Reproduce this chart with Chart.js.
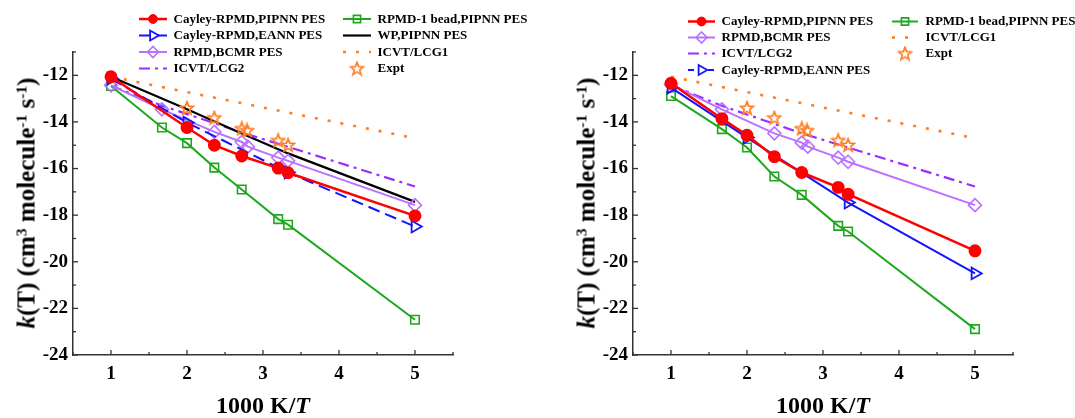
<!DOCTYPE html>
<html><head><meta charset="utf-8">
<script src="https://cdn.jsdelivr.net/npm/chart.js@4.4.1/dist/chart.umd.min.js"></script>
<style>
body{margin:0;background:#fff;}
#wrap{position:relative;width:1075px;height:418px;overflow:hidden;background:#fff;}
canvas{position:absolute;top:0;}
.ytitle{position:absolute;font:bold 25px 'Liberation Serif','Times New Roman',serif;white-space:nowrap;transform:translate(-50%,-50%) rotate(-90deg);line-height:25px;color:#000}
.xtitle{position:absolute;font:bold 24px 'Liberation Serif','Times New Roman',serif;white-space:nowrap;transform:translateX(-50%);line-height:24px;top:393px;color:#000}
sup{font-size:0.62em;position:relative;top:-0.5em;vertical-align:baseline;line-height:0}
</style></head>
<body><div id="wrap">
<canvas id="c1" width="537" height="418" style="left:0"></canvas>
<canvas id="c2" width="515" height="418" style="left:560px"></canvas>
<div class="ytitle" style="left:26px;top:203px"><i>k</i>(T) (cm<sup>3</sup> molecule<sup>-1</sup> s<sup>-1</sup>)</div>
<div class="ytitle" style="left:586px;top:203px"><i>k</i>(T) (cm<sup>3</sup> molecule<sup>-1</sup> s<sup>-1</sup>)</div>
<div class="xtitle" style="left:263px">1000 K/<i>T</i></div>
<div class="xtitle" style="left:823px">1000 K/<i>T</i></div>
</div>
<script>
// ---------- data ----------
const X_TICKS = [1, 2, 3, 4, 5];
const Y_TICKS = [-24, -22, -20, -18, -16, -14, -12];

// left panel
const redL_x = [1, 2, 2.36, 2.72, 3.2, 3.33, 5];
const redL_y = [-12.06, -14.24, -15.0, -15.46, -15.98, -16.18, -18.03];
const blueL_x = [1, 2, 3.33, 5];
const blueL_y = [-12.14, -14.03, -16.17, -18.49];
const purpleL_x = [1, 1.67, 2.36, 2.72, 2.8, 3.2, 3.33, 5];
const purpleL_y = [-12.43, -13.46, -14.43, -14.86, -15.06, -15.53, -15.67, -17.57];
const greenL_x = [1, 1.67, 2, 2.36, 2.72, 3.2, 3.33, 5];
const greenL_y = [-12.46, -14.24, -14.91, -15.96, -16.9, -18.17, -18.41, -22.49];
const blackL_x = [1, 2, 2.72, 3.33, 5];
const blackL_y = [-12.06, -13.46, -14.5, -15.35, -17.43];
const lcg1L_x = [1, 5];
const lcg1L_y = [-12.06, -14.7];
const lcg2L_x = [1, 1.67, 2.72, 5];
const lcg2L_y = [-12.45, -13.3, -14.45, -16.77];

// right panel
const redR_x = [1, 1.67, 2, 2.36, 2.72, 3.2, 3.33, 5];
const redR_y = [-12.34, -13.86, -14.57, -15.49, -16.17, -16.81, -17.1, -19.53];
const blueR_x = [1, 2, 3.33, 5];
const blueR_y = [-12.53, -14.67, -17.46, -20.5];
const purpleR_x = [1, 1.67, 2.36, 2.72, 2.8, 3.2, 3.33, 5];
const purpleR_y = [-12.39, -13.46, -14.49, -14.89, -15.06, -15.53, -15.71, -17.57];
const greenR_x = [1, 1.67, 2, 2.36, 2.72, 3.2, 3.33, 5];
const greenR_y = [-12.89, -14.31, -15.1, -16.34, -17.13, -18.46, -18.7, -22.89];
const lcg1R_x = [1, 5];
const lcg1R_y = [-12.06, -14.7];
const lcg2R_x = [1, 1.67, 2.72, 5];
const lcg2R_y = [-12.42, -13.31, -14.49, -16.77];

// experiment (both panels)
const expt_x = [2, 2.36, 2.72, 2.79, 3.2, 3.33];
const expt_y = [-13.4, -13.82, -14.28, -14.36, -14.79, -14.99];

// ---------- styling ----------
const F = "'Liberation Serif','Times New Roman',serif";
const RED = '#ff0000', BLUE = '#1414ff', PURPLE = '#b872ff', VIOLET = '#9a2eff',
      GREEN = '#1fa81f', BLACK = '#000000', ORANGE = '#ff7f27';

function starImg() {
  const c = document.createElement('canvas');
  c.width = c.height = 16;
  const g = c.getContext('2d');
  g.beginPath();
  for (let i = 0; i < 10; i++) {
    const r = i % 2 ? 2.9 : 6.8;
    const a = -Math.PI / 2 + i * Math.PI / 5;
    g.lineTo(8 + r * Math.cos(a), 8.5 + r * Math.sin(a));
  }
  g.closePath();
  g.strokeStyle = ORANGE; g.lineWidth = 1.7; g.stroke();
  return c;
}
const STAR = starImg();

function pts(xs, ys) { return xs.map((x, i) => ({ x: x, y: ys[i] })); }

const S = {
  red: { borderColor: RED, borderWidth: 2.5, pointStyle: 'circle', pointRadius: 5.2, pointBackgroundColor: RED, pointBorderColor: RED, order: 1 },
  blue: { borderColor: BLUE, borderWidth: 2, borderDash: [12, 6], pointStyle: 'triangle', pointRotation: 90, pointRadius: 6.8, pointBackgroundColor: 'rgba(0,0,0,0)', pointBorderColor: BLUE, pointBorderWidth: 1.8, order: 2 },
  blueSolid: { borderColor: BLUE, borderWidth: 2, pointStyle: 'triangle', pointRotation: 90, pointRadius: 6.8, pointBackgroundColor: 'rgba(0,0,0,0)', pointBorderColor: BLUE, pointBorderWidth: 1.8, order: 2 },
  purple: { borderColor: PURPLE, borderWidth: 2, pointStyle: 'rectRot', pointRadius: 6.5, pointBackgroundColor: 'rgba(0,0,0,0)', pointBorderColor: PURPLE, pointBorderWidth: 1.6, order: 3 },
  green: { borderColor: GREEN, borderWidth: 2, pointStyle: 'rect', pointRadius: 6, pointBackgroundColor: 'rgba(0,0,0,0)', pointBorderColor: GREEN, pointBorderWidth: 1.6, order: 4 },
  black: { borderColor: BLACK, borderWidth: 2.2, pointRadius: 0, order: 5 },
  lcg2: { borderColor: VIOLET, borderWidth: 2.2, borderDash: [11, 5, 3, 5], pointRadius: 0, order: 6 },
  lcg1: { borderColor: ORANGE, borderWidth: 2.6, borderDash: [3, 10], pointRadius: 0, order: 7 },
  expt: { showLine: false, pointStyle: STAR, pointRadius: 7, borderColor: ORANGE, order: 0 }
};

function ds(label, xs, ys, style) {
  return Object.assign({ label: label, data: pts(xs, ys), fill: false, tension: 0, pointHoverRadius: 0 }, style);
}

// inward axis ticks
const inTicks = {
  id: 'inTicks',
  afterDraw(chart) {
    const { ctx, scales: { x, y }, chartArea: a } = chart;
    ctx.save();
    ctx.strokeStyle = '#333'; ctx.lineWidth = 1.3;
    for (let v = x.min; v <= x.max + 1e-9; v += 0.5) {
      const px = x.getPixelForValue(v);
      const major = Math.abs(v - Math.round(v)) < 1e-9;
      ctx.beginPath(); ctx.moveTo(px, a.bottom); ctx.lineTo(px, a.bottom - (major ? 5 : 3)); ctx.stroke();
    }
    for (let v = y.min; v <= y.max + 1e-9; v += 1) {
      const py = y.getPixelForValue(v);
      const major = Math.round(v) % 2 === 0;
      ctx.beginPath(); ctx.moveTo(a.left, py); ctx.lineTo(a.left + (major ? 5 : 3), py); ctx.stroke();
    }
    ctx.restore();
  }
};

// custom two-column legend
const legendPlug = {
  id: 'legendPlug',
  afterDraw(chart, args, opts) {
    const ctx = chart.ctx;
    const dsets = chart.data.datasets;
    ctx.save();
    opts.items.forEach(it => {
      const d = dsets.find(s => s.label === it.label);
      const col = opts.cols[it.col];
      const y = opts.rows[it.row];
      if (d.showLine !== false) {
        ctx.save();
        ctx.strokeStyle = d.borderColor; ctx.lineWidth = d.borderWidth;
        ctx.setLineDash(it.dash || d.borderDash || []);
        ctx.beginPath(); ctx.moveTo(col.x1, y); ctx.lineTo(col.x2, y); ctx.stroke();
        ctx.restore();
      }
      if (d.pointRadius > 0) {
        ctx.save();
        ctx.setLineDash([]);
        ctx.fillStyle = d.pointBackgroundColor || 'rgba(0,0,0,0)';
        ctx.strokeStyle = d.pointBorderColor || d.borderColor;
        ctx.lineWidth = d.pointBorderWidth || 1;
        if (typeof d.pointStyle !== 'string') {
          ctx.drawImage(d.pointStyle, (col.x1 + col.x2) / 2 - d.pointStyle.width / 2, y - d.pointStyle.height / 2);
        } else {
          Chart.helpers.drawPoint(ctx, { pointStyle: d.pointStyle, rotation: d.pointRotation || 0, radius: d.pointRadius * 0.85, borderWidth: d.pointBorderWidth || 1 }, (col.x1 + col.x2) / 2, y);
        }
        ctx.restore();
      }
      ctx.fillStyle = '#000';
      ctx.font = 'bold 13px ' + F;
      ctx.textBaseline = 'middle'; ctx.textAlign = 'left';
      ctx.fillText(it.label, col.tx, y + 0.5);
    });
    ctx.restore();
  }
};

function makeChart(id, datasets, padRight, legendOpts) {
  return new Chart(document.getElementById(id), {
    type: 'line',
    data: { datasets: datasets },
    plugins: [inTicks, legendPlug],
    options: {
      responsive: false, animation: false, devicePixelRatio: 1,
      layout: { padding: { left: 0, right: padRight, top: 52, bottom: 0 } },
      plugins: { legend: { display: false }, tooltip: { enabled: false }, legendPlug: legendOpts },
      scales: {
        x: {
          type: 'linear', min: 0.5, max: 5.5,
          afterBuildTicks: s => { s.ticks = X_TICKS.map(v => ({ value: v })); },
          afterFit: s => { s.height = 63; },
          grid: { display: false, drawTicks: false },
          border: { display: true, color: '#333', width: 1.5 },
          ticks: { padding: 8, color: '#000', font: { family: F, size: 19, weight: 'bold' } }
        },
        y: {
          type: 'linear', min: -24, max: -11,
          afterBuildTicks: s => { s.ticks = Y_TICKS.map(v => ({ value: v })); },
          afterFit: s => { s.width = 73; },
          grid: { display: false, drawTicks: false },
          border: { display: true, color: '#333', width: 1.5 },
          ticks: { padding: 5, color: '#000', font: { family: F, size: 19, weight: 'bold' } }
        }
      }
    }
  });
}

const L1 = 'Cayley-RPMD,PIPNN PES', L2 = 'Cayley-RPMD,EANN PES', L3 = 'RPMD,BCMR PES',
      L4 = 'ICVT/LCG2', L5 = 'RPMD-1 bead,PIPNN PES', L6 = 'WP,PIPNN PES', L7 = 'ICVT/LCG1', L8 = 'Expt';

makeChart('c1', [
  ds(L1, redL_x, redL_y, S.red),
  ds(L2, blueL_x, blueL_y, S.blue),
  ds(L3, purpleL_x, purpleL_y, S.purple),
  ds(L4, lcg2L_x, lcg2L_y, S.lcg2),
  ds(L5, greenL_x, greenL_y, S.green),
  ds(L6, blackL_x, blackL_y, S.black),
  ds(L7, lcg1L_x, lcg1L_y, S.lcg1),
  ds(L8, expt_x, expt_y, S.expt)
], 84, {
  cols: [{ x1: 139, x2: 167, tx: 173.5 }, { x1: 343, x2: 371, tx: 377.5 }],
  rows: [19, 35.5, 52, 68.5],
  items: [
    { label: L1, col: 0, row: 0 }, { label: L2, col: 0, row: 1 }, { label: L3, col: 0, row: 2 }, { label: L4, col: 0, row: 3 },
    { label: L5, col: 1, row: 0 }, { label: L6, col: 1, row: 1 }, { label: L7, col: 1, row: 2 }, { label: L8, col: 1, row: 3 }
  ]
});

makeChart('c2', [
  ds(L1, redR_x, redR_y, S.red),
  ds(L2, blueR_x, blueR_y, S.blueSolid),
  ds(L3, purpleR_x, purpleR_y, S.purple),
  ds(L4, lcg2R_x, lcg2R_y, S.lcg2),
  ds(L5, greenR_x, greenR_y, S.green),
  ds(L7, lcg1R_x, lcg1R_y, S.lcg1),
  ds(L8, expt_x, expt_y, S.expt)
], 62, {
  cols: [{ x1: 128, x2: 155, tx: 161.5 }, { x1: 332, x2: 358, tx: 365.5 }],
  rows: [21.5, 37.5, 53.5, 70],
  items: [
    { label: L1, col: 0, row: 0 }, { label: L3, col: 0, row: 1 }, { label: L4, col: 0, row: 2 }, { label: L2, col: 0, row: 3, dash: [6, 14] },
    { label: L5, col: 1, row: 0 }, { label: L7, col: 1, row: 1 }, { label: L8, col: 1, row: 2 }
  ]
});
</script>
</body></html>
